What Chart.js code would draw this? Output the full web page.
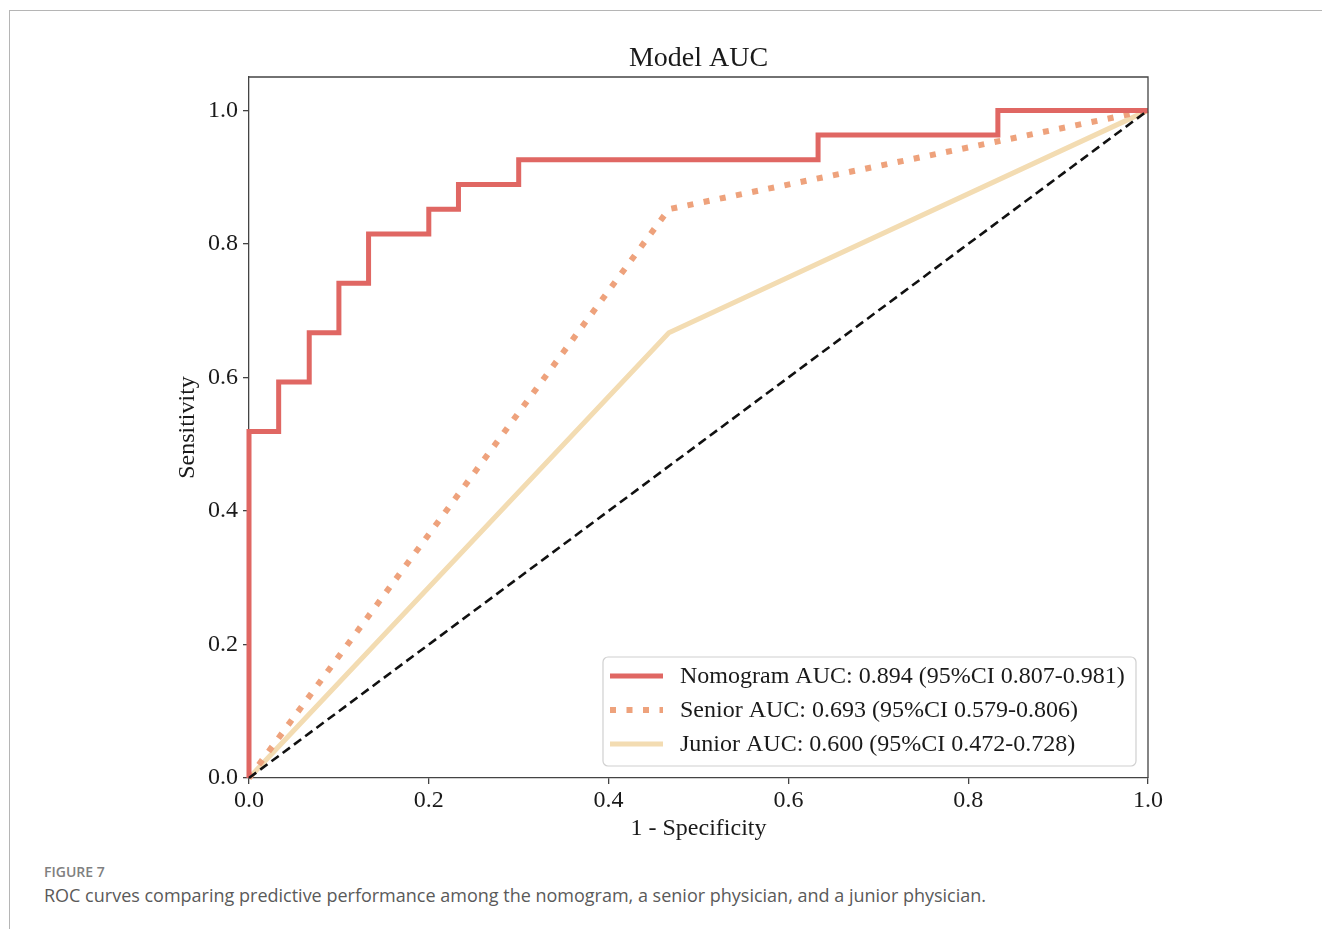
<!DOCTYPE html>
<html>
<head>
<meta charset="utf-8">
<script src="https://cdn.jsdelivr.net/npm/chart.js@4"></script>
<style>
  body { margin: 0; background: #fff; width: 1322px; height: 929px; position: relative; overflow: hidden; }
  .frameTop { position: absolute; left: 10px; top: 10px; right: 0; height: 1px; background: #b5b5b5; }
  .frameLeft { position: absolute; left: 9px; top: 10px; bottom: 0; width: 1px; background: #b5b5b5; }
  #rocChart { position: absolute; left: 0; top: 0; }
  .figLabel { position: absolute; left: 44px; top: 862px; font-family: "Open Sans", sans-serif; font-size: 14px; font-weight: 600; color: #808080; }
  .figCaption { position: absolute; left: 44px; top: 883px; font-family: "Open Sans", sans-serif; font-size: 18px; color: #5a5a5a; }
</style>
</head>
<body>
<div class="frameTop"></div>
<div class="frameLeft"></div>
<canvas id="rocChart" width="1322" height="860"></canvas>
<div class="figLabel">FIGURE 7</div>
<div class="figCaption">ROC curves comparing predictive performance among the nomogram, a senior physician, and a junior physician.</div>

<script>
// ROC points (1 - specificity, sensitivity)
const nomogramFpr = [0, 0, 0.033, 0.033, 0.067, 0.067, 0.1, 0.1, 0.133, 0.133, 0.2, 0.2, 0.233, 0.233, 0.3, 0.3, 0.633, 0.633, 0.833, 0.833, 1.0];
const nomogramTpr = [0, 0.519, 0.519, 0.593, 0.593, 0.667, 0.667, 0.741, 0.741, 0.815, 0.815, 0.852, 0.852, 0.889, 0.889, 0.926, 0.926, 0.963, 0.963, 1.0, 1.0];
const seniorFpr = [0, 0.467, 1.0];
const seniorTpr = [0, 0.852, 1.0];
const juniorFpr = [0, 0.467, 1.0];
const juniorTpr = [0, 0.667, 1.0];
const chanceFpr = [0, 1.0];
const chanceTpr = [0, 1.0];

const seriesLabels = [
  "Nomogram AUC: 0.894 (95%CI 0.807-0.981)",
  "Senior AUC: 0.693 (95%CI 0.579-0.806)",
  "Junior AUC: 0.600 (95%CI 0.472-0.728)"
];
const axisTicks = [0, 0.2, 0.4, 0.6, 0.8, 1.0];

const serif = "'Liberation Serif', 'Times New Roman', serif";
const toPoints = (xs, ys) => xs.map((x, i) => ({ x: x, y: ys[i] }));

// top/right spines of the axes box
const frameBox = {
  id: "frameBox",
  afterDatasetsDraw(chart) {
    const { ctx, chartArea: a } = chart;
    ctx.save();
    ctx.strokeStyle = "#444";
    ctx.lineWidth = 1.3;
    ctx.beginPath();
    ctx.moveTo(a.left, a.top);
    ctx.lineTo(a.right, a.top);
    ctx.lineTo(a.right, a.bottom);
    ctx.stroke();
    ctx.restore();
  }
};

// legend drawn inside the plot, lower right (like matplotlib)
const innerLegend = {
  id: "innerLegend",
  afterDraw(chart) {
    const { ctx, chartArea: a } = chart;
    const right = a.right - 12, bottom = a.bottom - 12;
    const left = right - 533, top = bottom - 109;
    ctx.save();
    ctx.fillStyle = "rgba(255,255,255,0.85)";
    ctx.strokeStyle = "#d0d0d0";
    ctx.lineWidth = 1.2;
    ctx.beginPath();
    ctx.roundRect(left, top, right - left, bottom - top, 5);
    ctx.fill();
    ctx.stroke();
    ctx.font = "24px " + serif;
    ctx.textBaseline = "middle";
    ctx.fillStyle = "#1a1a1a";
    for (let i = 0; i < 3; i++) {
      const ds = chart.data.datasets[i];
      const y = top + 19 + i * 34;
      ctx.beginPath();
      ctx.strokeStyle = ds.borderColor;
      ctx.lineWidth = ds.borderWidth;
      ctx.setLineDash(ds.borderDash || []);
      ctx.moveTo(left + 7, y);
      ctx.lineTo(left + 60, y);
      ctx.stroke();
      ctx.setLineDash([]);
      ctx.fillText(ds.label, left + 77, y + 1);
    }
    ctx.restore();
  }
};

new Chart(document.getElementById("rocChart"), {
  type: "scatter",
  data: {
    datasets: [
      {
        label: seriesLabels[0],
        data: toPoints(nomogramFpr, nomogramTpr),
        showLine: true,
        borderColor: "#e06763",
        borderWidth: 5,
        pointRadius: 0,
        order: 1,
        clip: false
      },
      {
        label: seriesLabels[1],
        data: toPoints(seniorFpr, seniorTpr),
        showLine: true,
        borderColor: "#eea27c",
        borderWidth: 6,
        borderDash: [6, 10.5],
        pointRadius: 0,
        order: 2,
        clip: false
      },
      {
        label: seriesLabels[2],
        data: toPoints(juniorFpr, juniorTpr),
        showLine: true,
        borderColor: "#f3dcb2",
        borderWidth: 5,
        pointRadius: 0,
        order: 3,
        clip: false
      },
      {
        label: "chance",
        data: toPoints(chanceFpr, chanceTpr),
        showLine: true,
        borderColor: "#111",
        borderWidth: 2.6,
        borderDash: [9, 5],
        pointRadius: 0,
        order: 0,
        clip: false
      }
    ]
  },
  options: {
    responsive: false,
    animation: false,
    layout: { padding: { left: 170, right: 174, top: 0, bottom: 12 } },
    scales: {
      x: {
        type: "linear",
        min: 0,
        max: 1.0,
        afterBuildTicks: (scale) => { scale.ticks = axisTicks.map((v) => ({ value: v })); },
        afterFit: (scale) => { scale.height = 70; },
        ticks: {
          color: "#1a1a1a",
          font: { family: serif, size: 24 },
          padding: 2,
          maxRotation: 0,
          callback: (v) => Number(v).toFixed(1)
        },
        grid: { display: true, drawOnChartArea: false, drawTicks: true, tickLength: 6, color: "#444", lineWidth: 1.3 },
        border: { display: true, color: "#444", width: 1.3 },
        title: {
          display: true,
          text: "1 - Specificity",
          color: "#1a1a1a",
          font: { family: serif, size: 24 },
          padding: { top: 0, bottom: 5 }
        }
      },
      y: {
        type: "linear",
        min: 0,
        max: 1.05,
        afterBuildTicks: (scale) => { scale.ticks = axisTicks.map((v) => ({ value: v })); },
        afterFit: (scale) => { scale.width = 79; },
        ticks: {
          color: "#1a1a1a",
          font: { family: serif, size: 24 },
          padding: 5,
          callback: (v) => Number(v).toFixed(1)
        },
        grid: { display: true, drawOnChartArea: false, drawTicks: true, tickLength: 6, color: "#444", lineWidth: 1.3 },
        border: { display: true, color: "#444", width: 1.3 },
        title: {
          display: true,
          text: "Sensitivity",
          color: "#1a1a1a",
          font: { family: serif, size: 24 },
          padding: { top: 3, bottom: 0 }
        }
      }
    },
    plugins: {
      legend: { display: false },
      tooltip: { enabled: false },
      title: {
        display: true,
        text: "Model AUC",
        fullSize: false,
        color: "#1a1a1a",
        font: { family: serif, size: 28, weight: "normal", lineHeight: 1.2 },
        padding: { top: 42, bottom: 1.4 }
      }
    }
  },
  plugins: [frameBox, innerLegend]
});
</script>
</body>
</html>
